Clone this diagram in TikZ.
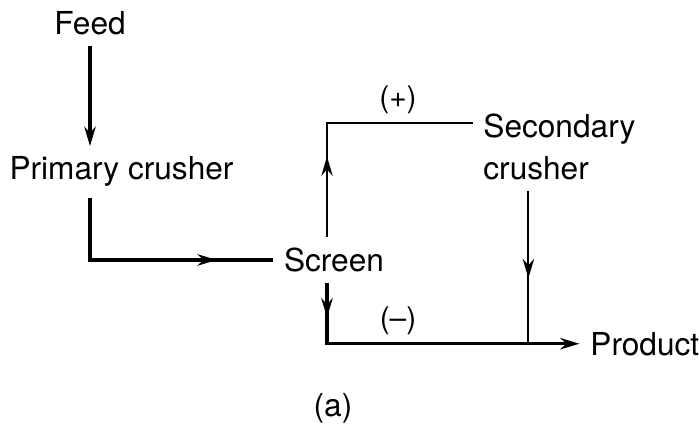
\documentclass[tikz,border=0pt]{standalone}
\usepackage{fontspec}
\setmainfont{TeX Gyre Heros}
\usetikzlibrary{arrows.meta}
\usetikzlibrary{decorations.markings}
\tikzset{
amark/.style={
	decoration={
		markings,
		mark=at position {#1} with {
			\arrow{Stealth[length=11pt,width=6.5pt]}
		}
	},
	postaction={decorate}
},
mainline/.style={line width=1.8pt},
thinline/.style={line width=1.1pt},
txt/.style={font=\fontsize{18}{24}\selectfont, inner sep=6pt},
sign/.style={font=\fontsize{17}{20}\selectfont, inner sep=2pt},
}

\begin{document}
\begin{tikzpicture}[>={Stealth[length=11pt,width=6.5pt]}]
\useasboundingbox (0,0) rectangle (13.98,-8.58);
%Place the nodes
\node[txt, anchor=base] (feed) at (1.80,-0.70) {Feed};
\node[txt, anchor=base] (primary) at (2.43,-3.60) {Primary crusher};
\node[txt, anchor=base] (screen) at (6.68,-5.43) {Screen};
\node[txt, anchor=base west, align=left] (secondary) at (9.45,-3.60) {Secondary\\crusher};
\node[txt, anchor=base west] (product) at (11.59,-7.10) {Product};
\node[sign] (plus) at (7.96,-2.00) {(+)};
\node[sign] (minus) at (7.96,-6.42) {(--)};
\node[txt] (caption) at (6.66,-8.16) {(a)};
\coordinate (join) at ([xshift=-0.62cm]secondary.south |- product.west);

%
\draw[->, mainline] (feed.south) to (feed |- primary.north);
\draw[amark={0.77}, mainline] (feed |- primary.south) |- (screen.west);

%
\draw[amark={0.31}, thinline] ([xshift=-0.14cm]screen.north) |- ([yshift=1.14cm]secondary.base west);
\draw[amark={0.11}, ->, mainline] ([xshift=-0.14cm]screen.south) |- (product.west);
\draw[amark={0.57}, thinline] ([xshift=-0.62cm]secondary.south) to (join);

\end{tikzpicture}
\end{document}
